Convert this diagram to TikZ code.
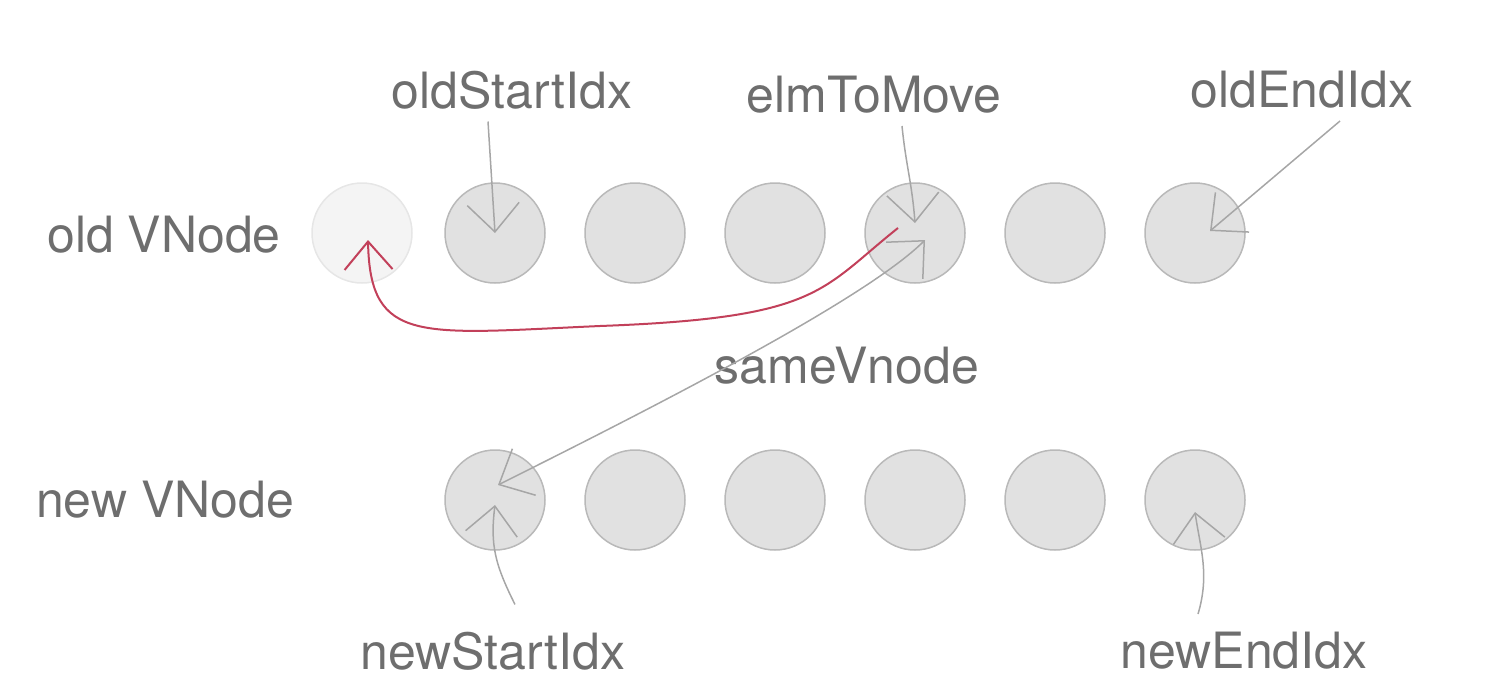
\documentclass[tikz,border=0pt]{standalone}
\usepackage{fontspec}
\setmainfont{TeX Gyre Heros}
\usetikzlibrary{arrows.meta}
\definecolor{txtgray}{HTML}{6E6E6E}
\definecolor{linegray}{HTML}{A6A6A6}
\definecolor{circline}{HTML}{B9B9B9}
\definecolor{circfill}{HTML}{E1E1E1}
\definecolor{ghostline}{HTML}{E6E6E6}
\definecolor{ghostfill}{HTML}{F4F4F4}
\definecolor{movered}{HTML}{C2405A}
\begin{document}
\begin{tikzpicture}[x=0.5pt,y=-0.5pt]
  \tikzstyle{vnode}=[circle,draw=circline,fill=circfill,line width=0.75pt,minimum size=50pt,inner sep=0pt]
  \tikzstyle{ghost}=[vnode,draw=ghostline,fill=ghostfill]
  \tikzstyle{lbl}=[text=txtgray,font=\fontsize{25pt}{30pt}\selectfont,inner sep=6pt]
  \tikzstyle{ptr}=[draw=linegray,line width=0.75pt,-{Straight Barb[length=14pt,width=26pt]}]
  \tikzstyle{moved}=[draw=movered,line width=1pt,-{Straight Barb[length=14pt,width=24pt]}]
  \useasboundingbox (0,0) rectangle (1488,680);
  % old VNode row
  \node[lbl] (lOld) at (164,235) {old VNode};
  \node[ghost] (o1) at (362,233) {};
  \node[vnode] (o2) at (495,233) {};
  \node[vnode] (o3) at (635,233) {};
  \node[vnode] (o4) at (775,233) {};
  \node[vnode] (o5) at (915,233) {};
  \node[vnode] (o6) at (1055,233) {};
  \node[vnode] (o7) at (1195,233) {};
  % new VNode row
  \node[lbl] (lNew) at (165,500) {new VNode};
  \node[vnode] (n1) at (495,500) {};
  \node[vnode] (n2) at (635,500) {};
  \node[vnode] (n3) at (775,500) {};
  \node[vnode] (n4) at (915,500) {};
  \node[vnode] (n5) at (1055,500) {};
  \node[vnode] (n6) at (1195,500) {};
  % pointers
  \node[lbl] (lOS) at (512,90) {oldStartIdx};
  \node[lbl] (lEM) at (874,95) {elmToMove};
  \node[lbl] (lOE) at (1302,90) {oldEndIdx};
  \node[lbl] (lSV) at (847,366) {sameVnode};
  \node[lbl] (lNS) at (493,651) {newStartIdx};
  \node[lbl] (lNE) at (1244,651) {newEndIdx};
  \draw[ptr] ([xshift=-12pt]lOS.south) -- (o2.center);
  \draw[ptr] ([xshift=14pt]lEM.south) .. controls +(4,40) and +(-3,-40) .. ([yshift=5pt]o5.center);
  \draw[ptr] ([xshift=19pt]lOE.south) -- ([shift={(7.5pt,1pt)}]o7.center);
  \draw[ptr,{Straight Barb[length=14pt,width=26pt]}-{Straight Barb[length=14pt,width=26pt]}]
    ([shift={(1.5pt,7.5pt)}]n1.center) .. controls +(150,-75) and +(-60,60) .. ([shift={(5pt,-3.5pt)}]o5.center);
  \draw[ptr] ([shift={(11pt,7.5pt)}]lNS.north) .. controls +(-20,-40) and +(-5,40) .. ([yshift=-2.5pt]n1.center);
  \draw[ptr] ([shift={(-23pt,3pt)}]lNE.north) .. controls +(12,-40) and +(5,35) .. ([yshift=-6pt]n6.center);
  % element moved to the front
  \draw[moved] ([shift={(-8.5pt,2.5pt)}]o5.center) .. controls +(-78,62) and +(220,-8) .. (600,326)
    .. controls +(-180,8) and +(2,105) .. ([shift={(3pt,-3.5pt)}]o1.center);
\end{tikzpicture}
\end{document}
